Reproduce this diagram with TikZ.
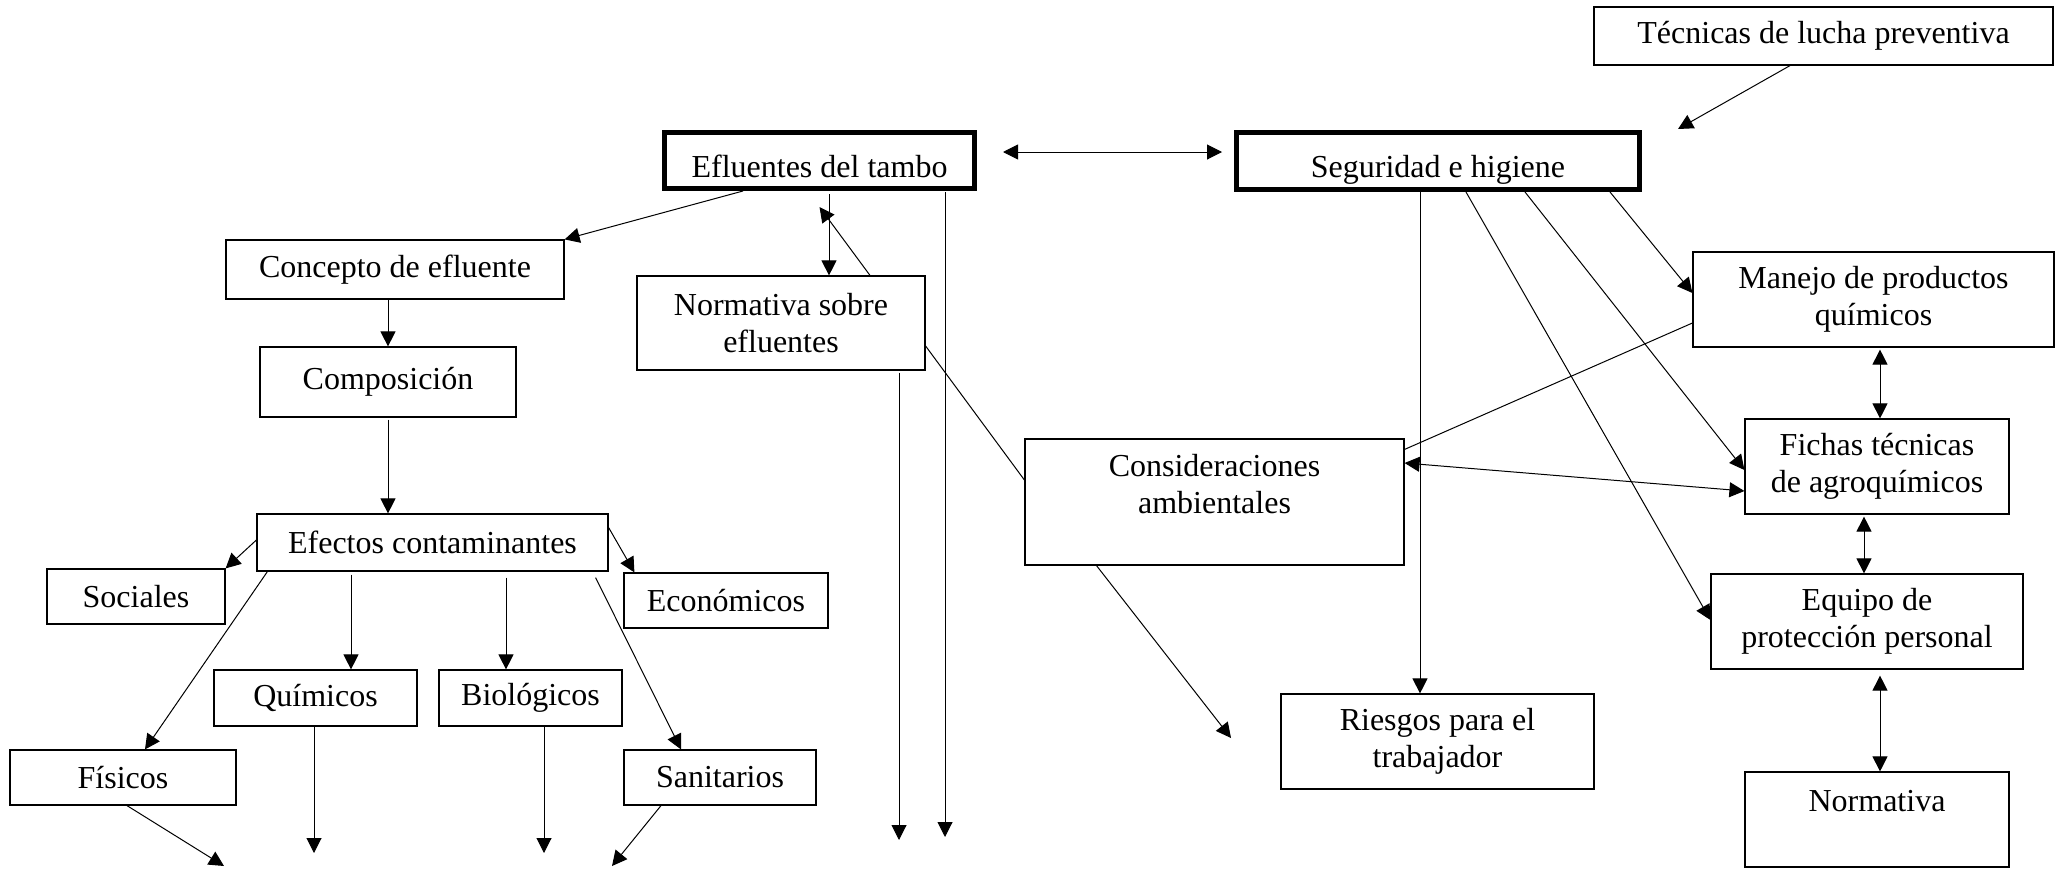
\documentclass[tikz,border=0pt]{standalone}
\usepackage{fontspec}
\setmainfont{Liberation Serif}
\usetikzlibrary{arrows.meta}

\begin{document}
\begin{tikzpicture}[x=1pt,y=-1pt,
        box/.style={draw, line width=1.2pt, align=center, inner sep=2pt, font=\fontsize{32}{37}\selectfont},
        thickbox/.style={box, line width=5pt, text height=33pt, text depth=0pt},
        arrow/.style={line width=1pt, -{Triangle[length=15pt,width=15pt]}},
        twoarrow/.style={line width=1pt, {Triangle[length=15pt,width=15pt]}-{Triangle[length=15pt,width=15pt]}},
        plain/.style={line width=1pt}]
        \useasboundingbox (0,0) rectangle (2058,868);

        \node[box, minimum width=459pt, minimum height=58pt] (tecnicas) at (1823.5,36) {Técnicas de lucha preventiva};
        \node[thickbox, minimum width=310pt, minimum height=56pt] (efluentes) at (819.5,160.5) {Efluentes del tambo};
        \node[thickbox, minimum width=403pt, minimum height=57pt] (seguridad) at (1438,161) {Seguridad e higiene};
        \node[box, minimum width=338pt, minimum height=59pt] (concepto) at (395,269.5) {Concepto de efluente};
        \node[box, minimum width=256pt, minimum height=70pt] (composicion) at (388,382) {Composición};
        \node[box, minimum width=288pt, minimum height=94pt] (normsobre) at (781,323) {Normativa sobre\\efluentes};
        \node[box, minimum width=351pt, minimum height=57pt] (efectos) at (432.5,542.5) {Efectos contaminantes};
        \node[box, minimum width=178pt, minimum height=55pt] (sociales) at (136,596.5) {Sociales};
        \node[box, minimum width=204pt, minimum height=55pt] (economicos) at (726,600.5) {Económicos};
        \node[box, minimum width=203pt, minimum height=56pt] (quimicos) at (315.5,698) {Químicos};
        \node[box, minimum width=183pt, minimum height=56pt] (biologicos) at (530.5,698) {Biológicos};
        \node[box, minimum width=226pt, minimum height=55pt] (fisicos) at (123,777.5) {Físicos};
        \node[box, minimum width=192pt, minimum height=55pt] (sanitarios) at (720,777.5) {Sanitarios};
        \node[box, minimum width=361pt, minimum height=95pt] (manejo) at (1873.5,299.5) {Manejo de productos\\químicos};
        \node[box, minimum width=264pt, minimum height=95pt] (fichas) at (1877,466.5) {Fichas técnicas\\de agroquímicos};
        \node[box, minimum width=312pt, minimum height=95pt] (equipo) at (1867,621.5) {Equipo de\\protección personal};
        \node[box, minimum width=264pt, minimum height=95pt] (normativa) at (1877,819.5) {Normativa\\\mbox{}};
        \node[box, minimum width=379pt, minimum height=126pt] (consideraciones) at (1214.5,502) {Consideraciones\\ambientales\\\mbox{}};
        \node[box, minimum width=313pt, minimum height=95pt] (riesgos) at (1437.5,741.5) {Riesgos para el\\trabajador};

        \coordinate (tecnicasend) at (1678,129);
        \coordinate (fisicosend) at (224,866);
        \coordinate (quimicosend) at (314,853);
        \coordinate (biologicosend) at (544,853);
        \coordinate (sanitariosend) at (612,866);
        \coordinate (normsobreend) at (899,840);
        \coordinate (efluentesend) at (945,837);
        \coordinate (consideracionesend) at (1231,738);

        \draw[twoarrow] ([xshift=26pt,yshift=8.5pt]efluentes.east) -- ([xshift=-12pt,yshift=9pt]seguridad.west);
        \draw[arrow] ([xshift=-33.5pt]tecnicas.south) -- (tecnicasend);

        \draw[arrow] ([xshift=-76.5pt]efluentes.south) -- (concepto.north east);
        \coordinate (e1) at ([xshift=9.5pt,yshift=-3pt]efluentes.south);
        \draw[arrow] (e1) -- (e1 |- normsobre.north);
        \draw[arrow] ([xshift=89pt]normsobre.north) -- ([yshift=-16pt]efluentes.south);
        \draw[arrow] ([xshift=118pt,yshift=-2pt]normsobre.south) -- (normsobreend);
        \draw[arrow] ([xshift=125.5pt,yshift=-1pt]efluentes.south) -- (efluentesend);
        \draw[plain] ([yshift=-23pt]normsobre.east) -- ([yshift=22pt]consideraciones.west);

        \draw[arrow] (concepto.south -| composicion.north) -- (composicion.north);
        \draw[arrow] ([yshift=-2pt]composicion.south) -- (efectos.north -| composicion.south);
        \draw[arrow] ([yshift=2.5pt]efectos.west) -- (sociales.north east);
        \draw[arrow] ([yshift=15pt]efectos.east) -- ([xshift=11pt]economicos.north west);
        \draw[arrow] ([xshift=11pt]efectos.south west) -- ([xshift=22pt]fisicos.north);
        \coordinate (q1) at ([xshift=-81.5pt,yshift=-3pt]efectos.south);
        \draw[arrow] (q1) -- (q1 |- quimicos.north);
        \coordinate (b1) at ([xshift=73.5pt,yshift=-6pt]efectos.south);
        \draw[arrow] (b1) -- (b1 |- biologicos.north);
        \draw[arrow] ([xshift=-13pt,yshift=-6pt]efectos.south east) -- ([xshift=-39pt]sanitarios.north);
        \draw[arrow] ([xshift=4pt]fisicos.south) -- (fisicosend);
        \draw[arrow] ([xshift=-1.5pt]quimicos.south) -- (quimicosend);
        \draw[arrow] ([xshift=13.5pt]biologicos.south) -- (biologicosend);
        \draw[arrow] ([xshift=-59pt]sanitarios.south) -- (sanitariosend);

        \coordinate (r1) at ([xshift=-18pt]seguridad.south);
        \draw[arrow] (r1) -- (r1 |- riesgos.north);
        \draw[arrow] ([xshift=28pt]seguridad.south) -- ([yshift=1.5pt]equipo.west);
        \draw[arrow] ([xshift=87pt]seguridad.south) -- ([yshift=-3.5pt]fichas.west);
        \draw[arrow] ([xshift=-32pt]seguridad.south east) -- ([yshift=6.5pt]manejo.west);
        \draw[plain] ([yshift=-23.5pt]manejo.west) -- ([yshift=-11pt]consideraciones.north east);
        \draw[twoarrow] ([yshift=39pt]consideraciones.east) -- ([yshift=-24.5pt]fichas.west);
        \coordinate (m1) at ([xshift=6.5pt,yshift=-2pt]manejo.south);
        \draw[twoarrow] (m1) -- (m1 |- fichas.north);
        \coordinate (f1) at ([xshift=-13pt,yshift=-2pt]fichas.south);
        \draw[twoarrow] (f1) -- (f1 |- equipo.north);
        \coordinate (p1) at ([xshift=13pt,yshift=-6pt]equipo.south);
        \draw[twoarrow] (p1) -- (p1 |- normativa.north);
        \draw[arrow] ([xshift=-118pt]consideraciones.south) -- (consideracionesend);

    \end{tikzpicture}
\end{document}
